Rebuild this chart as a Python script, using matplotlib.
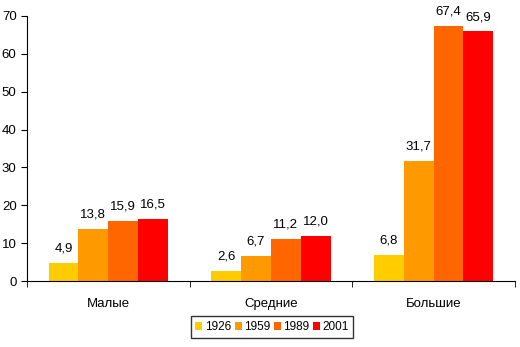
import numpy as np
import matplotlib.pyplot as plt

categories = ['Малые', 'Средние', 'Большие']
years = ['1926', '1959', '1989', '2001']
values = {
    '1926': [4.9, 2.6, 6.8],
    '1959': [13.8, 6.7, 31.7],
    '1989': [15.9, 11.2, 67.4],
    '2001': [16.5, 12.0, 65.9],
}
colors = ['#FFCC00', '#FF9900', '#FF6600', '#FF0000']

plt.rcParams['font.family'] = ['Liberation Sans', 'DejaVu Sans']
plt.rcParams['font.size'] = 9.5

fig = plt.figure(figsize=(5.2, 3.47), dpi=100)
ax = fig.add_axes([0.052, 0.190, 0.938, 0.764])

x = np.arange(len(categories))
w = 0.184
for i, (yr, c) in enumerate(zip(years, colors)):
    pos = x + (i - 1.5) * w
    ax.bar(pos, values[yr], w, color=c, label=yr)
    for px, v in zip(pos, values[yr]):
        ax.text(px, v + 2.2, f'{v:.1f}'.replace('.', ','), ha='center', va='bottom')

ax.set_xlim(-0.5, 2.5)
ax.set_ylim(0, 70)
ax.set_yticks(range(0, 71, 10))
ax.set_xticks(x)
ax.set_xticklabels(categories)
ax.tick_params(axis='x', which='major', length=0, pad=12)
ax.set_xticks([-0.5, 0.5, 1.5, 2.5], minor=True)
ax.tick_params(axis='x', which='minor', length=4, direction='out')
ax.tick_params(axis='y', length=4, direction='out')
ax.spines['top'].set_visible(False)
ax.spines['right'].set_visible(False)

fig.legend(loc='center', bbox_to_anchor=(272 / 520, 1 - 327 / 347), ncol=4,
           frameon=True, fancybox=False, edgecolor='black', fontsize=8.5,
           handlelength=0.6, handleheight=0.6, handletextpad=0.2,
           columnspacing=0.3, borderpad=0.4, borderaxespad=0)

fig.savefig('out.png', dpi=100)
